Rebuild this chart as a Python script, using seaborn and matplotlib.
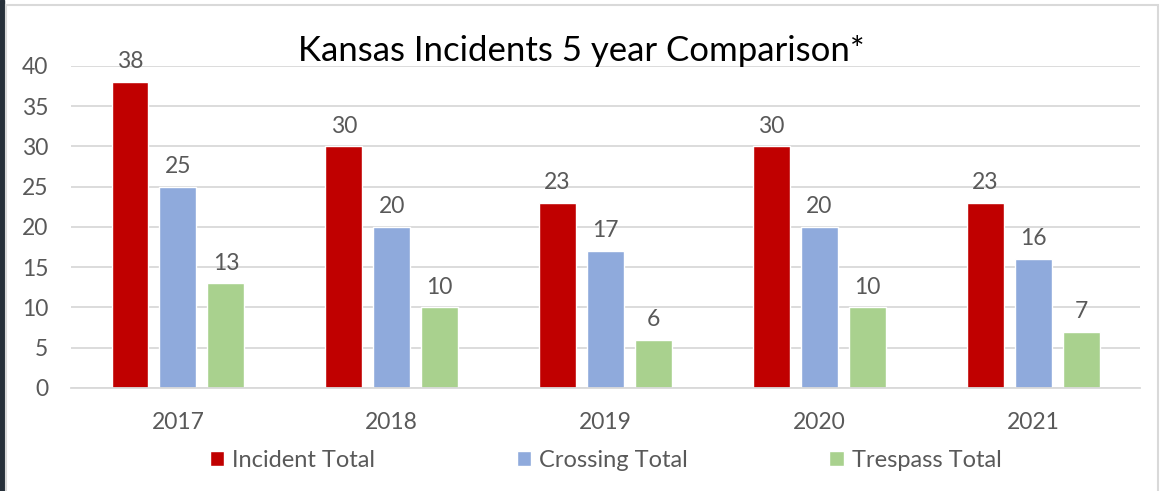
import pandas as pd
import matplotlib.pyplot as plt
import seaborn as sns
from matplotlib.patches import Rectangle

# =====================================
# Data
# =====================================

years = ["2017", "2018", "2019", "2020", "2021"]
series = ["Incident Total", "Crossing Total", "Trespass Total"]

incident_total = [38, 30, 23, 30, 23]
crossing_total = [25, 20, 17, 20, 16]
trespass_total = [13, 10, 6, 10, 7]

colors = ["#C00000", "#8FAADC", "#A9D18E"]
text_color = "#595959"

df = pd.DataFrame({
    "year": years * 3,
    "series": [series[0]] * 5 + [series[1]] * 5 + [series[2]] * 5,
    "value": incident_total + crossing_total + trespass_total,
})

# =====================================
# Figure
# =====================================

sns.set_style("white")
plt.rcParams["font.family"] = ["Lato", "DejaVu Sans"]

fig = plt.figure(figsize=(11.61, 4.91), dpi=100)
ax = fig.add_axes([0.0612, 0.2098, 0.9208, 0.6558])

sns.barplot(
    data=df,
    x="year",
    y="value",
    hue="series",
    order=years,
    hue_order=series,
    palette=colors,
    width=0.673,
    gap=0.23,
    saturation=1,
    ax=ax,
)

ax.set_ylim(0, 40)
ax.set_yticks(range(0, 41, 5))
ax.set_xlim(-0.5, 4.5)
ax.grid(axis="y", color="#D9D9D9", linewidth=1.3)
ax.set_axisbelow(True)
for side in ["top", "right", "left"]:
    ax.spines[side].set_visible(False)
ax.spines["bottom"].set_color("#D9D9D9")
ax.spines["bottom"].set_linewidth(1.3)

ax.set_xlabel("")
ax.set_ylabel("")
ax.tick_params(axis="both", length=0, labelsize=16.5, colors=text_color)
ax.tick_params(axis="x", pad=17)
ax.tick_params(axis="y", pad=16.5)

for container in ax.containers:
    ax.bar_label(container, padding=7, fontsize=16.5, color=text_color)

fig.text(
    0.501,
    1 - 61 / 491,
    "Kansas Incidents 5 year Comparison*",
    fontsize=25,
    color="black",
    ha="center",
    va="baseline",
)

ax.legend(
    loc="center",
    bbox_to_anchor=(0.5, -0.224),
    ncol=3,
    frameon=False,
    fontsize=17,
    labelcolor=text_color,
    handlelength=0.6,
    handleheight=0.6,
    handletextpad=0.35,
    columnspacing=6.0,
)

# frame like the source screenshot
fig.patches.append(Rectangle((0, 0), 4 / 1161, 1, transform=fig.transFigure,
                             color="#27303a", zorder=0))
fig.patches.append(Rectangle((6 / 1161, -0.05), 1152 / 1161, 1 - 5 / 491 + 0.05,
                             transform=fig.transFigure, fill=False,
                             edgecolor="#D9D9D9", linewidth=1.5, zorder=0))

fig.savefig("out.png", dpi=100)
